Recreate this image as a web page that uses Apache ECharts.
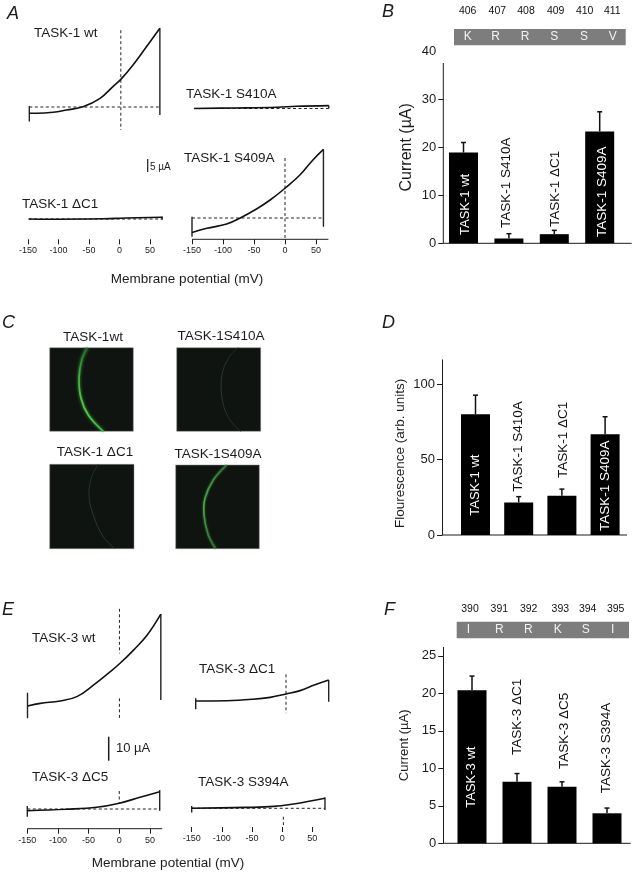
<!DOCTYPE html>
<html><head><meta charset="utf-8">
<style>html,body{margin:0;padding:0;background:#fff}#c{width:636px;height:875px}</style>
<script src="https://cdn.jsdelivr.net/npm/echarts@6/dist/echarts.min.js"></script>
</head><body><div id="c"></div>
<script>
// ---------- data: current traces, [mV, uA] ----------
const a1Trace=[[-147,-2.6],[-135,-2.6],[-108,-2.2],[-86,-1.25],[-59,0.1],[-31,3.6],[-10,8.5],[3,11.5],[23,17.5],[45,25.1],[67,32.8]];
const a1Edges=[[-147,0.4],[-147,-6],null,[67,32.8],[67,-3.3]];
const a1Zero=[[-147,0],[67,0],null,[3,32],[3,-9.6]];
const a2Trace=[[-150,-0.2],[-85,0],[-14,0.3],[18,0.7],[71,1]];
const a2Edges=[[71,1],[71,-0.2]];
const a2Zero=[[-150,-0.2],[71,-0.2]];
const a3Trace=[[-150,-6],[-126,-4.3],[-94,-2.5],[-73,-0.1],[-46,3.75],[-24,7.5],[0,12.4],[24,17.9],[45,24.2],[62,28.6]];
const a3Edges=[[-150,0.5],[-150,-7.8],null,[62,28.6],[62,-3.6]];
const a3Zero=[[-150,0],[62,0],null,[0,25],[0,-9]];
const a4Trace=[[-149,0],[-118,-0.1],[-26,0.1],[10,0.4],[70,0.7]];
const a4Edges=[[70,1],[70,-0.3]];
const a4Zero=[[-149,0],[70,0]];
const e1Trace=[[-150,-2.5],[-129,-1.4],[-97,-0.4],[-69.5,1.4],[-42,6.3],[-15,11.8],[1,15.3],[23,20.8],[45,27],[67.5,35.8]];
const e1Edges=[[-150,3],[-150,-7.6],null,[67.5,35.8],[67.5,0]];
const e1Zero=[[0,38],[0,19.4],null,[0,0.7],[0,-8.3]];
const e2Trace=[[-148,-1.1],[-97,-1],[-54,-0.4],[-26,0.4],[0,1.8],[23,3.2],[47.5,5.6],[70,7.6]];
const e2Edges=[[-148,0],[-148,-4.6],null,[70,7.6],[70,-1.4]];
const e2Zero=[[0,10],[0,-6.2]];
const e3Trace=[[-150,-0.7],[-86,-0.1],[-37,0.7],[0,2.4],[34,4.9],[66,7.2]];
const e3Edges=[[-150,1.2],[-150,-3.2],null,[66,7.9],[66,-0.7]];
const e3Zero=[[-150,0],[66,0],null,[0,7.5],[0,2.4]];
const e4Trace=[[-150,0],[-81,0.3],[-20,0.7],[19,1.8],[71,4.2]];
const e4Edges=[[-150,1],[-150,-1.8],null,[71,4.6],[71,-0.7]];
const e4Zero=[[-150,0],[71,0],null,[2,-3.5],[2,-8]];
const mvTicks=[-150,-100,-50,0,50];

// ---------- data: bars ----------
const bCategories=['TASK-1 wt','TASK-1 S410A','TASK-1 \u0394C1','TASK-1 S409A'];
const bValues=[18.9,1.0,1.9,23.3];
const bErrors=[21,2.0,2.7,27.4];
const bTickLabels=[0,10,20,30,40];
const bResidues=['K','R','R','S','S','V'];
const bPositions=['406','407','408','409','410','411'];
const dCategories=['TASK-1 wt','TASK-1 S410A','TASK-1 \u0394C1','TASK-1 S409A'];
const dValues=[80,21.6,26,66.7];
const dErrors=[92.6,25.4,30.4,78.3];
const dTickLabels=[0,50,100];
const fCategories=['TASK-3 wt','TASK-3 \u0394C1','TASK-3 \u0394C5','TASK-3 S394A'];
const fValues=[20.4,8.2,7.55,4];
const fErrors=[22.3,9.3,8.2,4.7];
const fTickLabels=[0,5,10,15,20,25];
const fResidues=['I','R','R','K','S','I'];
const fPositions=['390','391','392','393','394','395'];
const cLabels=['TASK-1wt','TASK-1S410A','TASK-1 \u0394C1','TASK-1S409A'];

// ---------- layout ----------
const FONT='"Liberation Sans",Arial,sans-serif', INK='#1c1c1c';
const PX_PER_UA=2.4, UA_TOP=40;
const grid=[],xAxis=[],yAxis=[],series=[],graphic=[];

function tracePanel(trace,edges,zero,o){
  const i=grid.length, top=o.zeroY-UA_TOP*PX_PER_UA;
  const bottom=o.axisY!==undefined?o.axisY:o.zeroY+30;
  grid.push({left:o.left,top:top,width:220*o.scale,height:bottom-top});
  const hasAxis=o.ticks||o.line;
  xAxis.push({gridIndex:i,type:'value',min:-150,max:70,show:!!hasAxis,position:'bottom',splitLine:{show:false},
    axisLine:{show:false,onZero:false},
    axisTick:{show:true,customValues:mvTicks,length:5,lineStyle:{color:INK,width:1}},
    axisLabel:{show:true,customValues:mvTicks,fontSize:9,color:INK,fontFamily:FONT,margin:7}});
  yAxis.push({gridIndex:i,type:'value',min:-(bottom-o.zeroY)/PX_PER_UA,max:UA_TOP,show:false,splitLine:{show:false}});
  const base={type:'line',xAxisIndex:i,yAxisIndex:i,showSymbol:false,symbol:'none',silent:true,clip:false,connectNulls:false};
  series.push(Object.assign({},base,{data:zero,lineStyle:{color:'#222',width:1,type:[3,2.5]}}));
  series.push(Object.assign({},base,{data:edges,lineStyle:{color:'#222',width:1.4}}));
  series.push(Object.assign({},base,{data:trace,smooth:0.4,lineStyle:{color:'#111',width:1.6}}));
  if(o.line) graphic.push(line(o.left,bottom,o.left+220*o.scale,bottom));
}
tracePanel(a1Trace,a1Edges,a1Zero,{left:27.5,scale:0.61,zeroY:107});
tracePanel(a2Trace,a2Edges,a2Zero,{left:194,scale:0.61,zeroY:108});
tracePanel(a3Trace,a3Edges,a3Zero,{left:192,scale:0.62,zeroY:218,axisY:239.3,line:true,ticks:true});
tracePanel(a4Trace,a4Edges,a4Zero,{left:28,scale:0.61,zeroY:219,axisY:239.3,ticks:true});
tracePanel(e1Trace,e1Edges,e1Zero,{left:27.5,scale:0.613,zeroY:700});
tracePanel(e2Trace,e2Edges,e2Zero,{left:194.5,scale:0.61,zeroY:698.3});
tracePanel(e3Trace,e3Edges,e3Zero,{left:27.3,scale:0.613,zeroY:809,axisY:828.7,line:true,ticks:true});
tracePanel(e4Trace,e4Edges,e4Zero,{left:191.7,scale:0.603,zeroY:808.3,axisY:827,ticks:true});

function barPanel(cats,vals,errs,tickLabels,o){
  const i=grid.length;
  grid.push({left:o.left,top:o.bottom-o.max*o.ppu,width:o.band*4,height:o.max*o.ppu});
  xAxis.push({gridIndex:i,type:'category',data:cats,show:false});
  yAxis.push({gridIndex:i,type:'value',min:0,max:o.max,offset:o.left-o.axisX,position:'left',splitLine:{show:false},
    name:o.name,nameLocation:'middle',nameGap:o.nameGap,nameTextStyle:{fontSize:o.nameSize,color:INK,fontFamily:FONT,padding:o.namePad||0},
    axisLine:{show:o.showLine,lineStyle:{color:INK,width:1}},
    axisTick:{show:true,customValues:o.ticks||tickLabels,length:5,lineStyle:{color:INK,width:1}},
    axisLabel:{customValues:tickLabels,fontSize:13,color:INK,fontFamily:FONT,margin:7}});
  series.push({type:'custom',xAxisIndex:i,yAxisIndex:i,silent:true,data:errs.map((e,k)=>[k,vals[k],e]),
    renderItem:(p,api)=>{
      const a=api.coord([api.value(0),api.value(1)]),b=api.coord([api.value(0),api.value(2)]);
      const st={stroke:'#111',lineWidth:1.5,fill:null};
      return {type:'group',children:[
        {type:'line',shape:{x1:a[0],y1:a[1],x2:b[0],y2:b[1]},style:st},
        {type:'line',shape:{x1:a[0]-2.5,y1:b[1],x2:a[0]+2.5,y2:b[1]},style:st}]};
    }});
  series.push({type:'bar',xAxisIndex:i,yAxisIndex:i,data:vals,barWidth:29,silent:true,itemStyle:{color:'#000'}});
  graphic.push(line(o.axisX,o.bottom,o.lineEnd,o.bottom));
  if(!o.showLine) graphic.push(line(o.axisX,o.lineTop,o.axisX,o.bottom));
}
barPanel(bCategories,bValues,bErrors,bTickLabels,{left:440.8,band:45.4,axisX:443.3,bottom:243.3,ppu:4.8,max:40,ticks:[0,10,20,30],showLine:false,lineTop:63,name:'Current (\u00b5A)',nameGap:29,nameSize:16,lineEnd:631.7});
barPanel(dCategories,dValues,dErrors,dTickLabels,{left:453.9,band:43.2,axisX:442,bottom:535,ppu:1.51,max:116,showLine:true,name:'Flourescence (arb. units)',nameGap:35,nameSize:13.5,namePad:[0,12,0,0],lineEnd:627});
barPanel(fCategories,fValues,fErrors,fTickLabels,{left:449.5,band:45,axisX:443.3,bottom:843.3,ppu:7.5,max:26.13,showLine:true,name:'Current (\u00b5A)',nameGap:32,nameSize:13,lineEnd:630.7});

function line(x1,y1,x2,y2,w){return {type:'line',silent:true,shape:{x1,y1,x2,y2},style:{stroke:INK,lineWidth:w||1}};}
function text(s,x,y,o){o=o||{};return {type:'text',silent:true,x,y,z:20,rotation:o.rot||0,style:{text:s,align:o.align||'left',verticalAlign:'middle',
  fill:o.color||INK,font:(o.style||'normal')+' '+(o.size||13.5)+'px '+FONT}};}
const up=(s,x,y,color,size)=>text(s,x,y,{rot:Math.PI/2,color,size});

// panel letters
[['A',7,14],['B',382,12],['C',2,323],['D',382,323],['E',2,610],['F',384,610]].forEach(a=>graphic.push(text(a[0],a[1],a[2],{style:'italic',size:18})));
// trace labels
[['TASK-1 wt',34,33],['TASK-1 S410A',186,94],['TASK-1 S409A',184,158],['TASK-1 \u0394C1',22,204],
 ['TASK-3 wt',32,638],['TASK-3 \u0394C1',199,669],['TASK-3 \u0394C5',32,777],['TASK-3 S394A',198,782]].forEach(a=>graphic.push(text(a[0],a[1],a[2])));
graphic.push(text('Membrane potential (mV)',187,279,{align:'center',size:13.5}));
graphic.push(text('Membrane potential (mV)',168,863,{align:'center',size:13.5}));
// scale bars
graphic.push(line(147.7,159,147.7,172,1.2),text('5 \u00b5A',150,167,{size:10}));
graphic.push(line(108.7,736.7,108.7,760.7,1.5),text('10 \u00b5A',116,748,{size:13}));
// bar labels
const W='#fff',K='#111';
graphic.push(up(bCategories[0],465,235,W,13),up(bCategories[1],506.7,228,K),up(bCategories[2],555,227,K),up(bCategories[3],602.7,237,W));
graphic.push(up(dCategories[0],475,515.7,W,13),up(dCategories[1],518.3,491.7,K),up(dCategories[2],563.3,478,K),up(dCategories[3],605,531,W));
graphic.push(up(fCategories[0],471.7,807.7,W,13),up(fCategories[1],517.3,755,K),up(fCategories[2],564.3,769,K),up(fCategories[3],606.7,793.3,K));
// sequence strips
function strip(res,pos,x,y,w,h,resX,posX,posY){
  graphic.push({type:'rect',silent:true,shape:{x,y,width:w,height:h},style:{fill:'#7d7d7d'}});
  res.forEach((r,i)=>graphic.push(text(r,resX[i],y+h/2,{align:'center',color:'#f2f2f2',size:12})));
  pos.forEach((p,i)=>graphic.push(text(p,posX[i],posY,{align:'center',size:10.5,color:'#111'})));
}
strip(bResidues,bPositions,454,29,171.7,16.3,[467.7,495.7,525,554.3,584,612.7],[467.7,497.3,526,555.7,584.7,612.3],11);
strip(fResidues,fPositions,456.7,621.7,172.3,16.6,[468.3,499.3,528.3,557.7,585.7,612.7],[470,499.3,528.7,560.3,587.7,615.7],609);
// C micrographs
function micro(x,y,w,h,pts,stops,lw,blur){
  graphic.push({type:'rect',silent:true,shape:{x,y,width:w,height:h},style:{fill:'#101410',stroke:'#8a8a8a',lineWidth:0.5}});
  graphic.push({type:'polyline',silent:true,shape:{points:pts,smooth:0.4},style:{fill:null,lineWidth:lw,shadowBlur:blur,shadowColor:stops[1][1],
    stroke:new echarts.graphic.LinearGradient(0,0,0,1,stops.map(s=>({offset:s[0],color:s[1]})))}});
}
micro(49.7,347.7,83.6,83.6,[[87.3,347.7],[81.7,360],[79,378.3],[81,398.3],[88.3,415],[103.3,431.3]],[[0,'#1f5a28'],[0.35,'#3db83c'],[0.75,'#4fd048'],[1,'#3fae3a']],1.7,3);
micro(176.7,347.7,84,83.6,[[238.3,347.7],[228.3,358.3],[221.7,376.7],[222.7,401.7],[230,420],[240.7,431.3]],[[0,'#222c25'],[0.5,'#2c3a30'],[1,'#222c25']],1,0);
micro(49.7,464.3,84.3,84.4,[[98.3,464.3],[91.7,476.7],[89,495],[93.3,515],[103.3,536.7],[115,548.7]],[[0,'#1f2c22'],[0.5,'#2a382d'],[1,'#2a382c']],1,0);
micro(175.7,465,83.6,83.7,[[226.7,465],[213.3,480],[205,498.3],[204,515],[208.3,535],[215.7,548.7]],[[0,'#2a7a30'],[0.5,'#48b045'],[1,'#2a6a30']],1.4,2);
[[cLabels[0],93,337],[cLabels[1],221,336],[cLabels[2],95,452],[cLabels[3],218,454]].forEach(a=>graphic.push(text(a[0],a[1],a[2],{align:'center'})));

const chart=echarts.init(document.getElementById('c'),null,{renderer:'canvas'});
chart.setOption({animation:false,backgroundColor:'#fff',grid,xAxis,yAxis,series,graphic});
</script></body></html>
